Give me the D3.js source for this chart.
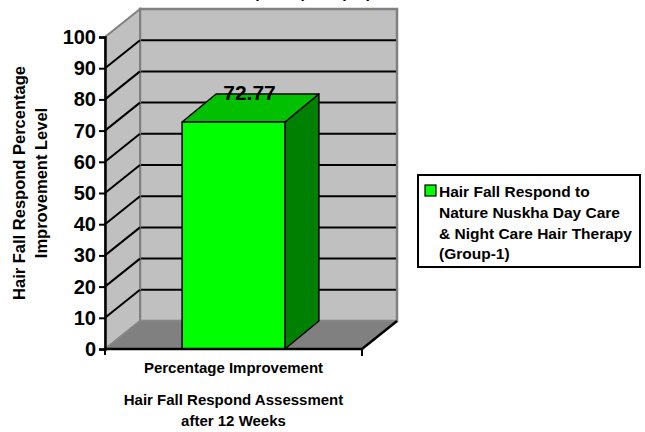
<!DOCTYPE html>
<html>
<head>
<meta charset="utf-8">
<script src="https://cdn.jsdelivr.net/npm/d3@7"></script>
<style>
  html, body { margin: 0; padding: 0; background: #fff; }
  svg text { font-family: "Liberation Sans", Arial, sans-serif; font-weight: bold; fill: #000; }
</style>
</head>
<body>
<div id="chart"></div>
<script>
// chart data
const categories = ['Percentage Improvement'];
const improvement = [72.77];
const yTickValues = [0, 10, 20, 30, 40, 50, 60, 70, 80, 90, 100];
const legendLines = ['Hair Fall Respond to', 'Nature Nuskha Day Care', '& Night Care Hair Therapy', '(Group-1)'];
const yTitleLines = ['Hair Fall Respond  Percentage', 'Improvement Level'];
const xTitleLines = ['Hair Fall Respond Assessment', 'after 12 Weeks'];
const chartTitle = 'Hair Fall Respond (Group-1)';

const width = 645, height = 432;
const margin = {top: 37, right: 283, bottom: 83, left: 105};
const depth = {dx: 35, dy: -28};   // 3d offset of the back wall

const svg = d3.select('#chart')
  .append('svg')
  .attr('width', width)
  .attr('height', height)
  .attr('viewBox', `0 0 ${width} ${height}`);

const x = d3.scaleBand()
  .domain(categories)
  .range([margin.left, width - margin.right])
  .paddingInner(0.6)
  .paddingOuter(0.3);

const y = d3.scaleLinear()
  .domain([0, 100])
  .range([height - margin.bottom, margin.top]);

const x0 = x.range()[0], x1 = x.range()[1];
const pts = a => a.map(p => p.join(',')).join(' ');

// title (only its descenders peek in at the top edge in the original)
svg.append('text')
  .attr('x', 265)
  .attr('y', -2.5)
  .attr('text-anchor', 'middle')
  .style('font-size', '16px')
  .text(chartTitle);

// walls and floor
const walls = svg.append('g');

walls.append('polygon')   // back wall
  .attr('points', pts([
    [x0 + depth.dx, y(100) + depth.dy], [x1 + depth.dx, y(100) + depth.dy],
    [x1 + depth.dx, y(0) + depth.dy], [x0 + depth.dx, y(0) + depth.dy]]))
  .attr('fill', '#c0c0c0')
  .attr('stroke', '#808080')
  .attr('stroke-width', 2.5);

walls.append('polygon')   // side wall
  .attr('points', pts([
    [x0, y(100)], [x0 + depth.dx, y(100) + depth.dy],
    [x0 + depth.dx, y(0) + depth.dy], [x0, y(0)]]))
  .attr('fill', '#c0c0c0')
  .attr('stroke', '#808080')
  .attr('stroke-width', 2);

walls.append('polygon')   // floor
  .attr('points', pts([
    [x0, y(0)], [x0 + depth.dx, y(0) + depth.dy],
    [x1 + depth.dx, y(0) + depth.dy], [x1, y(0)]]))
  .attr('fill', '#808080')
  .attr('stroke', '#8c8c8c')
  .attr('stroke-width', 1);

// gridlines on back and side wall
const gridValues = yTickValues.filter(v => v > 0 && v < 100);

walls.selectAll('.back-grid')
  .data(gridValues)
  .enter()
  .append('line')
  .attr('x1', x0 + depth.dx + 1)
  .attr('x2', x1 + depth.dx - 1)
  .attr('y1', d => y(d) + depth.dy)
  .attr('y2', d => y(d) + depth.dy)
  .attr('stroke', '#000')
  .attr('stroke-width', 2);

walls.selectAll('.side-grid')
  .data(gridValues)
  .enter()
  .append('line')
  .attr('x1', x0)
  .attr('y1', d => y(d))
  .attr('x2', x0 + depth.dx)
  .attr('y2', d => y(d) + depth.dy)
  .attr('stroke', '#000')
  .attr('stroke-width', 2);

// 3d bars
const bars = svg.append('g')
  .selectAll('g')
  .data(categories.map((c, i) => ({label: c, value: improvement[i]})))
  .enter()
  .append('g')
  .attr('stroke', '#000')
  .attr('stroke-width', 1.5)
  .attr('stroke-linejoin', 'round');

bars.append('polygon')   // side
  .attr('fill', '#008000')
  .attr('points', d => {
    const r = x(d.label) + x.bandwidth();
    return pts([[r, y(d.value)], [r + depth.dx - 1, y(d.value) + depth.dy],
      [r + depth.dx - 1, y(0) + depth.dy], [r, y(0)]]);
  });

bars.append('polygon')   // top
  .attr('fill', '#00c000')
  .attr('points', d => {
    const l = x(d.label), r = l + x.bandwidth();
    return pts([[l, y(d.value)], [l + depth.dx - 1, y(d.value) + depth.dy],
      [r + depth.dx - 1, y(d.value) + depth.dy], [r, y(d.value)]]);
  });

bars.append('rect')      // front
  .attr('fill', '#00ff00')
  .attr('x', d => x(d.label))
  .attr('y', d => y(d.value))
  .attr('width', x.bandwidth())
  .attr('height', d => y(0) - y(d.value));

// value labels
svg.append('g')
  .selectAll('text')
  .data(improvement)
  .enter()
  .append('text')
  .attr('x', (d, i) => x(categories[i]) + x.bandwidth() / 2 + 16)
  .attr('y', d => y(d) - 22)
  .attr('text-anchor', 'middle')
  .style('font-size', '21px')
  .text(d => d.toFixed(2));

// y axis
const yAxis = svg.append('g')
  .attr('transform', `translate(${x0},0)`)
  .call(d3.axisLeft(y).tickValues(yTickValues).tickSize(6).tickPadding(3));

yAxis.select('.domain').attr('stroke', '#000').attr('stroke-width', 2.5);
yAxis.selectAll('.tick line').attr('stroke', '#000').attr('stroke-width', 2);
yAxis.selectAll('.tick text')
  .style('font-size', '20px')
  .style('font-family', '"Liberation Sans", Arial, sans-serif')
  .style('font-weight', 'bold')
  .attr('fill', '#000');

// x axis (front edge of the floor, plus its depth edge)
const xAxis = svg.append('g')
  .attr('transform', `translate(0,${y(0)})`)
  .call(d3.axisBottom(x).tickSize(0).tickFormat(''));

xAxis.select('.domain').remove();
xAxis.append('line')
  .attr('x1', x0).attr('x2', x1)
  .attr('stroke', '#000').attr('stroke-width', 2.5);
xAxis.append('line')
  .attr('x1', x1).attr('x2', x1).attr('y1', 0).attr('y2', 7)
  .attr('stroke', '#000').attr('stroke-width', 2);
xAxis.append('line')
  .attr('x1', x0).attr('x2', x0).attr('y1', 0).attr('y2', 6)
  .attr('stroke', '#000').attr('stroke-width', 2);
xAxis.append('line')
  .attr('x1', x1).attr('y1', 0)
  .attr('x2', x1 + depth.dx).attr('y2', depth.dy)
  .attr('stroke', '#000').attr('stroke-width', 2.5);

svg.append('g')
  .selectAll('text')
  .data(categories)
  .enter()
  .append('text')
  .attr('x', d => x(d) + x.bandwidth() / 2)
  .attr('y', y(0) + 24)
  .attr('text-anchor', 'middle')
  .style('font-size', '15px')
  .text(d => d);

// axis titles
svg.append('g')
  .selectAll('text')
  .data(xTitleLines)
  .enter()
  .append('text')
  .attr('x', (x0 + x1) / 2)
  .attr('y', (d, i) => 405 + i * 21)
  .attr('text-anchor', 'middle')
  .style('font-size', '15px')
  .text(d => d);

svg.append('g')
  .selectAll('text')
  .data(yTitleLines)
  .enter()
  .append('text')
  .attr('transform', (d, i) => `translate(${25 + i * 22},183) rotate(-90)`)
  .attr('text-anchor', 'middle')
  .style('font-size', '16.5px')
  .text(d => d);

// legend
const legend = svg.append('g');

legend.append('rect')
  .attr('x', 418)
  .attr('y', 175)
  .attr('width', 222)
  .attr('height', 92)
  .attr('fill', '#fff')
  .attr('stroke', '#000')
  .attr('stroke-width', 2);

legend.append('rect')
  .attr('x', 425)
  .attr('y', 185)
  .attr('width', 11)
  .attr('height', 11)
  .attr('fill', '#00ff00')
  .attr('stroke', '#000')
  .attr('stroke-width', 1.2);

legend.selectAll('.legend-line')
  .data(legendLines)
  .enter()
  .append('text')
  .attr('x', 439)
  .attr('y', (d, i) => 197 + i * 20.8)
  .style('font-size', '15.5px')
  .text(d => d);
</script>
</body>
</html>
